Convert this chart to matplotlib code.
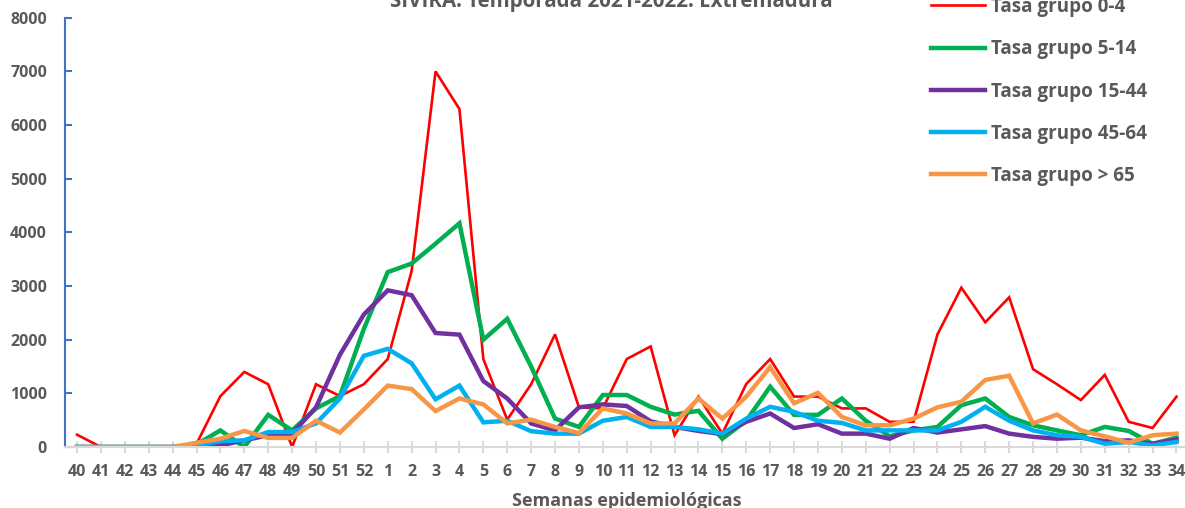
import matplotlib
matplotlib.use("Agg")
import matplotlib.pyplot as plt

semanas = [str(s) for s in list(range(40, 53)) + list(range(1, 35))]

tasa_0_4 = [230, 0, 0, 0, 0, 60, 950, 1400, 1170, 0, 1170, 950, 1170,
            1640, 3280, 7000, 6300, 1640, 510, 1170, 2100, 740, 720, 1640, 1875,
            220, 940, 250, 1175, 1640, 940, 940, 720, 720, 470, 470, 2100,
            2970, 2325, 2790, 1450, 1170, 875, 1345, 470, 355, 940]
tasa_5_14 = [0, 0, 0, 0, 0, 50, 310, 0, 600, 310, 720, 950, 2200,
             3260, 3420, 3790, 4170, 2000, 2390, 1500, 530, 375, 970, 970, 750,
             605, 675, 155, 490, 1125, 600, 600, 905, 490, 200, 310, 375,
             780, 905, 560, 405, 310, 220, 375, 300, 60, 175]
tasa_15_44 = [0, 0, 0, 0, 0, 10, 30, 125, 220, 250, 740, 1720, 2470,
              2920, 2830, 2125, 2095, 1230, 905, 440, 310, 740, 795, 765, 480,
              375, 300, 240, 470, 625, 355, 425, 250, 250, 155, 355, 270,
              330, 390, 250, 190, 155, 175, 110, 125, 60, 140]
tasa_45_64 = [0, 0, 0, 0, 0, 30, 110, 125, 280, 280, 440, 905, 1700,
              1830, 1560, 890, 1145, 460, 490, 295, 250, 250, 490, 560, 375,
              375, 330, 250, 530, 750, 655, 490, 450, 310, 310, 310, 310,
              470, 750, 490, 310, 220, 190, 60, 95, 30, 95]
tasa_65 = [0, 0, 0, 0, 0, 80, 155, 300, 170, 170, 490, 270, 700,
           1145, 1080, 670, 905, 795, 440, 510, 375, 260, 720, 625, 440,
           440, 905, 530, 940, 1490, 815, 1010, 560, 405, 405, 530, 740,
           845, 1250, 1330, 440, 605, 310, 200, 80, 220, 250]

series = [
    ("Tasa grupo 0-4", tasa_0_4, "#FF0000", 1.9),
    ("Tasa grupo 5-14", tasa_5_14, "#00B050", 3.2),
    ("Tasa grupo 15-44", tasa_15_44, "#7030A0", 3.2),
    ("Tasa grupo 45-64", tasa_45_64, "#00B0F0", 3.2),
    ("Tasa grupo > 65", tasa_65, "#F79646", 3.2),
]

plt.rcParams['font.family'] = ['Open Sans', 'DejaVu Sans']
plt.rcParams['font.weight'] = 'bold'
gris = "#595959"

fig = plt.figure(figsize=(11.85, 5.08), dpi=100)
ax = fig.add_axes([0.0549, 0.120, 0.948, 0.845])

x = range(len(semanas))
for nombre, vals, col, lw in series:
    ax.plot(x, vals, color=col, lw=lw, label=nombre, solid_joinstyle='miter')

ax.set_xlim(-0.5, len(semanas) - 0.5)
ax.set_ylim(0, 8000)
ax.set_yticks(range(0, 8001, 1000))
ax.set_xticks(list(x))
ax.set_xticklabels(semanas)

for s in ['top', 'right']:
    ax.spines[s].set_visible(False)
ax.spines['left'].set_color("#4472C4")
ax.spines['left'].set_linewidth(1.5)
ax.spines['bottom'].set_color("#D9D9D9")
ax.spines['bottom'].set_linewidth(1.5)

ax.tick_params(axis='y', colors="#4472C4", direction='in', length=5, width=1.5,
               pad=13, labelcolor=gris, labelsize=11.5)
ax.tick_params(axis='x', colors="#D9D9D9", direction='inout', length=8, width=1.5,
               pad=8, labelcolor=gris, labelsize=11.5)
for lab in ax.get_xticklabels() + ax.get_yticklabels():
    lab.set_fontweight('bold')

ax.set_xlabel("Semanas epidemiológicas", color=gris, fontsize=13,
              fontweight='bold', labelpad=9)
fig.text(0.516, 1.018, "SIVIRA. Temporada 2021-2022. Extremadura", ha='center',
         va='top', color=gris, fontsize=14.8, fontweight='bold')

leg = fig.legend(loc='upper left', bbox_to_anchor=(0.786, 1.006), frameon=False,
                 fontsize=13.6, handlelength=2.85, handletextpad=0.3,
                 labelspacing=1.18, borderpad=0, borderaxespad=0)
for t in leg.get_texts():
    t.set_color(gris)
    t.set_fontweight('bold')

fig.savefig("out.png", dpi=100)
